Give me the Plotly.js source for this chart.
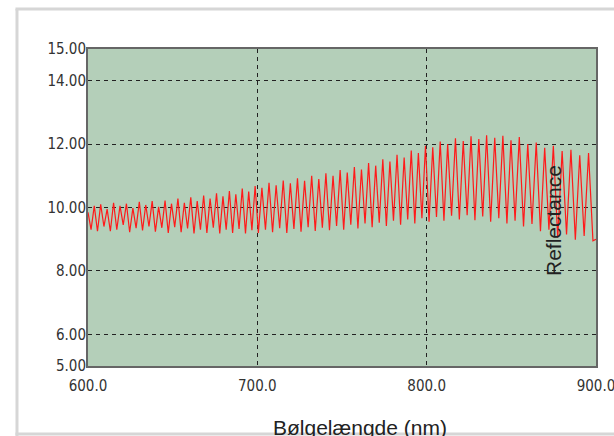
<!DOCTYPE html>
<html>
<head>
<meta charset="utf-8">
<script src="https://cdn.plot.ly/plotly-3.0.1.min.js"></script>
<style>
html,body{margin:0;padding:0;background:#fff;}
#chart{width:614px;height:436px;}
</style>
</head>
<body>
<div id="chart"></div>
<script>
const wavelength = [
600.0,601.8,603.7,605.6,607.5,609.4,611.3,613.2,615.1,617.0,618.9,620.8,622.7,624.6,626.5,628.4,630.3,632.2,634.1,636.0,
637.9,639.8,641.7,643.6,645.5,647.4,649.3,651.2,653.1,655.0,656.9,658.8,660.7,662.6,664.5,666.4,668.3,670.2,672.1,674.0,
675.9,677.8,679.7,681.6,683.5,685.4,687.3,689.2,691.1,693.0,694.9,696.8,698.7,700.6,
702.7,704.8,706.9,709.0,711.1,713.2,715.3,717.4,719.5,721.6,723.7,725.8,727.9,730.0,732.1,734.2,736.3,738.4,740.5,742.6,
744.7,746.8,748.9,751.0,753.1,755.2,757.3,759.4,761.5,763.6,765.7,767.8,769.9,772.0,774.1,776.2,778.3,780.4,782.5,784.6,
786.7,788.8,790.9,793.0,795.1,797.2,799.3,801.4,
803.6,805.8,808.0,810.2,812.4,814.7,817.0,819.3,821.6,823.9,826.2,828.5,830.8,833.1,835.4,837.8,840.2,842.6,845.0,847.4,
849.8,852.2,854.7,857.2,859.7,862.2,864.7,867.2,869.7,872.2,874.8,877.4,880.0,882.6,885.2,887.8,890.4,893.0,895.6,898.2,900.0
];
const reflectance = [
9.85,9.30,10.05,9.25,10.10,9.40,9.95,9.25,10.15,9.30,10.05,9.45,10.12,9.22,9.98,9.35,10.18,9.28,10.08,9.40,
10.20,9.24,10.02,9.36,10.22,9.20,10.12,9.38,10.28,9.22,10.15,9.34,10.32,9.18,10.20,9.30,10.38,9.20,10.28,9.36,
10.45,9.18,10.35,9.30,10.52,9.20,10.42,9.32,10.60,9.18,10.50,9.28,10.68,9.20,
10.62,9.30,10.78,9.22,10.70,9.35,10.85,9.20,10.76,9.32,10.92,9.24,10.84,9.38,11.00,9.26,10.90,9.36,11.08,9.28,
11.00,9.42,11.18,9.30,11.10,9.46,11.28,9.34,11.20,9.50,11.40,9.38,11.32,9.52,11.52,9.42,11.45,9.58,11.66,9.46,
11.58,9.62,11.80,9.50,11.72,9.66,11.95,9.55,
11.90,9.70,12.08,9.58,12.00,9.74,12.18,9.62,12.10,9.76,12.25,9.60,12.16,9.72,12.28,9.55,12.20,9.66,12.26,9.50,
12.12,9.58,12.22,9.40,12.00,9.48,12.05,9.25,11.88,9.30,11.95,9.05,11.78,9.15,11.82,8.98,11.65,9.10,11.72,8.95,9.00
];
const xTicks = [600, 700, 800, 900];
const xTickText = ['600.0', '700.0', '800.0', '900.0'];
const yTicks = [5, 6, 8, 10, 12, 14, 15];
const yTickText = ['5.00', '6.00', '8.00', '10.00', '12.00', '14.00', '15.00'];
const xTitle = 'Bølgelængde (nm)';
const seriesLabel = 'Reflectance';

const tickFont = {family: '"DejaVu Sans Condensed", "Liberation Sans Narrow", "Arial Narrow", sans-serif', size: 15, color: '#333'};
const frame = '#d6d6d6';

const trace = {
  x: wavelength, y: reflectance, type: 'scatter', mode: 'lines',
  line: {color: '#ff1a1a', width: 1.2}, hoverinfo: 'skip', showlegend: false
};

const layout = {
  width: 614, height: 436,
  margin: {l: 88, r: 18, t: 49, b: 70, pad: 0},
  paper_bgcolor: '#ffffff',
  plot_bgcolor: '#b4cfb9',
  showlegend: false,
  xaxis: {
    range: [600, 900], tickvals: xTicks, ticktext: xTickText,
    showline: true, linecolor: '#666', linewidth: 2, mirror: true,
    showgrid: true, gridcolor: '#222', gridwidth: 1, griddash: '4px,4px',
    zeroline: false, ticks: '', tickfont: tickFont, ticklabelstandoff: 5,
    ticklabeloverflow: 'allow'
  },
  yaxis: {
    range: [5, 15], tickvals: yTicks, ticktext: yTickText,
    showline: true, linecolor: '#666', linewidth: 2, mirror: true,
    showgrid: true, gridcolor: '#222', gridwidth: 1, griddash: '4px,4px',
    zeroline: false, ticks: '', tickfont: tickFont, ticklabelstandoff: -3,
    ticklabeloverflow: 'allow'
  },
  annotations: [
    {text: xTitle, xref: 'paper', yref: 'paper', x: 0.5364, y: -0.151, xanchor: 'center', yanchor: 'top',
     showarrow: false, font: {family: 'Liberation Sans, Arial, sans-serif', size: 21, color: '#222'}},
    {text: seriesLabel, xref: 'x', yref: 'y', x: 874.5, y: 9.6, textangle: -90, xanchor: 'center', yanchor: 'middle',
     showarrow: false, font: {family: 'Liberation Sans, Arial, sans-serif', size: 21, color: '#222'}}
  ],
  shapes: [
    {type: 'line', xref: 'paper', yref: 'paper', x0: -0.1398, x1: -0.1398, y0: 1.1262, y1: -0.25, line: {color: frame, width: 3}, layer: 'above'},
    {type: 'line', xref: 'paper', yref: 'paper', x0: -0.1428, x1: 1.05, y0: 1.1262, y1: 1.1262, line: {color: frame, width: 3}, layer: 'above'},
    {type: 'line', xref: 'paper', yref: 'paper', x0: -0.1428, x1: 1.05, y0: -0.2145, y1: -0.2145, line: {color: frame, width: 3}, layer: 'below'}
  ]
};

Plotly.newPlot('chart', [trace], layout, {staticPlot: true, displayModeBar: false});
</script>
</body>
</html>
